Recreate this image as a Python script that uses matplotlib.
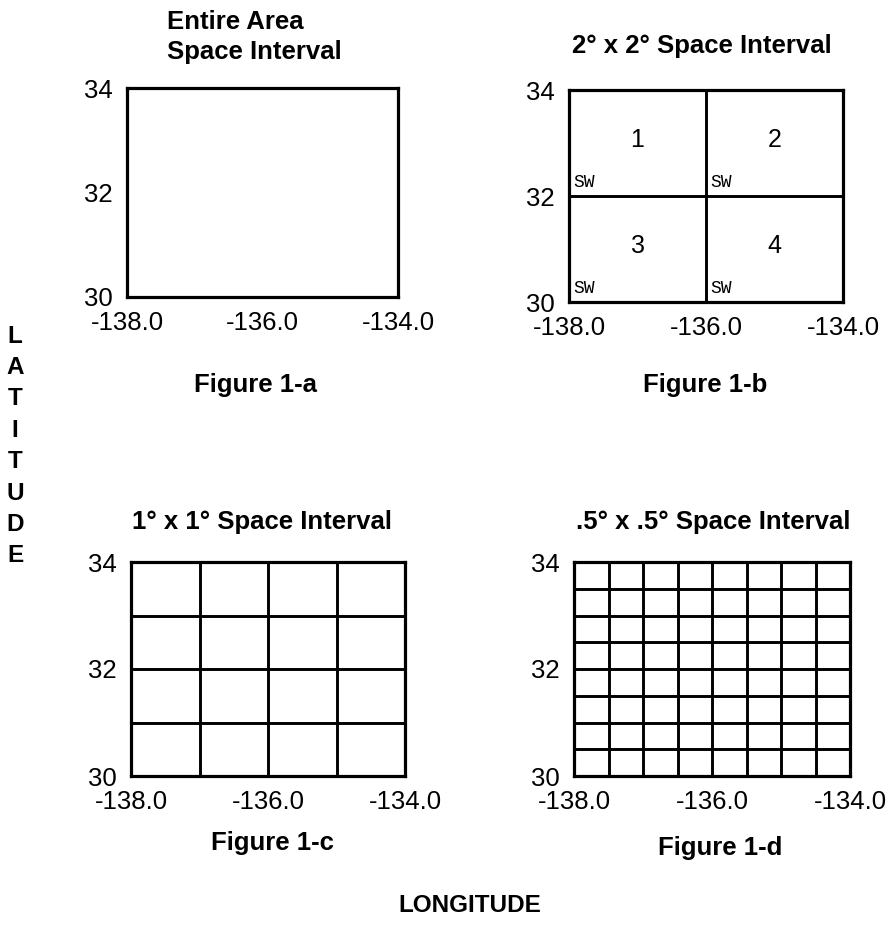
import matplotlib
matplotlib.use("Agg")
import matplotlib.pyplot as plt
import numpy as np

plt.rcParams['font.family'] = ['Liberation Sans', 'DejaVu Sans']

#chart data
lonMin, lonMax = -138.0, -134.0
latMin, latMax = 30.0, 34.0
xTicks = [-138.0, -136.0, -134.0]
xTickLabels = ['-138.0', '-136.0', '-134.0']
yTicks = [30, 32, 34]
yTickLabels = ['30', '32', '34']
spacing = [4.0, 2.0, 1.0, 0.5]
titles = ['Entire Area\nSpace Interval', '2° x 2° Space Interval',
          '1° x 1° Space Interval', '.5° x .5° Space Interval']
figLabels = ['Figure 1-a', 'Figure 1-b', 'Figure 1-c', 'Figure 1-d']
cellNumbers = ['1', '2', '3', '4']

fig = plt.figure(figsize=(8.86, 9.25), dpi=100)
W, H = 886.0, 925.0

#pixel boxes of the four panels (left, top, right, bottom)
boxes = [(127, 88, 398, 297), (569, 90, 843, 302),
         (131, 562, 405, 776), (574, 562, 850, 776)]

axes = []
for i, (l, t, r, b) in enumerate(boxes):
    ax = fig.add_axes([l / W, 1 - b / H, (r - l) / W, (b - t) / H])
    ax.set_xlim(lonMin, lonMax)
    ax.set_ylim(latMin, latMax)
    ax.set_xticks(xTicks)
    ax.set_xticklabels(xTickLabels)
    ax.set_yticks(yTicks)
    ax.set_yticklabels(yTickLabels)
    ax.tick_params(length=0, labelsize=18.5, pad=10)
    for s in ax.spines.values():
        s.set_linewidth(2.3)
        s.set_color('black')
    #grid lines for the space interval
    step = spacing[i]
    for x in np.arange(lonMin + step, lonMax, step):
        ax.axvline(x, color='black', lw=2.1)
    for y in np.arange(latMin + step, latMax, step):
        ax.axhline(y, color='black', lw=2.1)
    axes.append(ax)

#numbered cells and SW corners in figure 1-b
axb = axes[1]
k = 0
for y0 in [32.0, 30.0]:
    for x0 in [-138.0, -136.0]:
        axb.text(x0 + 1.0, y0 + 1.05, cellNumbers[k], ha='center', va='center',
                 fontsize=18)
        axb.text(x0 + 0.07, y0 + 0.1, 'SW', ha='left', va='bottom',
                 fontsize=13, family='Liberation Mono')
        k += 1

#panel titles
fig.text(167 / W, 1 - 37 / H, titles[0], ha='left', va='center',
         fontsize=18.5, fontweight='bold', linespacing=1.3)
fig.text(702 / W, 1 - 46 / H, titles[1], ha='center', va='center',
         fontsize=18.5, fontweight='bold')
fig.text(262 / W, 1 - 522 / H, titles[2], ha='center', va='center',
         fontsize=18.5, fontweight='bold')
fig.text(713 / W, 1 - 522 / H, titles[3], ha='center', va='center',
         fontsize=18.5, fontweight='bold')

#figure labels under each panel
labelPos = [(255, 385), (705, 385), (272, 843), (720, 848)]
for (x, y), lab in zip(labelPos, figLabels):
    fig.text(x / W, 1 - y / H, lab, ha='center', va='center',
             fontsize=18.5, fontweight='bold')

#axis words
for j, ch in enumerate('LATITUDE'):
    fig.text(15 / W, 1 - (336 + j * 31.4) / H, ch, ha='center', va='center',
             fontsize=17.5, fontweight='bold')
fig.text(470 / W, 1 - 906 / H, 'LONGITUDE', ha='center', va='center',
         fontsize=17.5, fontweight='bold')

plt.savefig('out.png', dpi=100)
